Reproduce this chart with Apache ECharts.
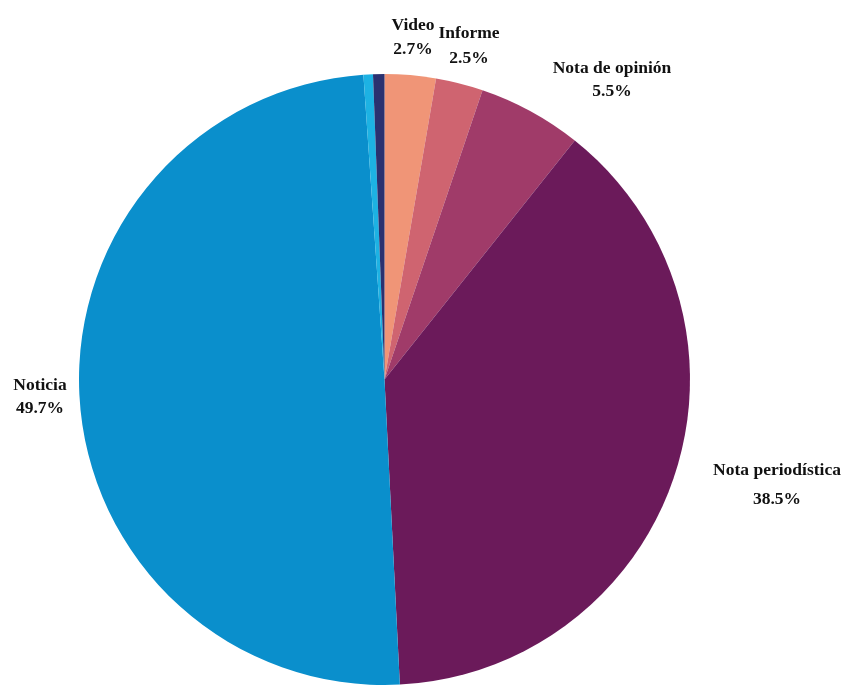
<!DOCTYPE html>
<html>
<head>
<meta charset="utf-8">
<script src="https://cdn.jsdelivr.net/npm/echarts@6/dist/echarts.min.js"></script>
<style>html,body{margin:0;padding:0;background:#fff}#c{width:845px;height:686px}</style>
</head>
<body>
<div id="c"></div>
<script>
const categories = ['Video', 'Informe', 'Nota de opinión', 'Nota periodística', 'Noticia', 'Otro', 'Otros'];
const values = [2.7, 2.5, 5.5, 38.5, 49.7, 0.5, 0.6];
const showLabel = [true, true, true, true, true, false, false];
const colors = ['#F09577', '#CF6470', '#A03B69', '#6B1A5A', '#0A8FCC', '#1DB2E3', '#2A3170'];
const labelPos = [[413, 37], [469, 46], [612, 80], [777, 485], [40, 397], [0, 0], [0, 0]];
const labelLineHeights = [24, 25, 23, 29, 23, 23, 23];

const chart = echarts.init(document.getElementById('c'));
chart.setOption({
  animation: false,
  series: [{
    type: 'pie',
    center: [384.5, 379.5],
    radius: [0, 305.5],
    startAngle: 90,
    clockwise: true,
    avoidLabelOverlap: false,
    itemStyle: { borderWidth: 0 },
    label: {
      show: true,
      position: 'outside',
      formatter: p => p.name + '\n' + p.value.toFixed(1) + '%',
      fontFamily: '"Liberation Serif", "Times New Roman", serif',
      fontWeight: 'bold',
      fontSize: 17.5,
      lineHeight: 24,
      color: '#111',
      align: 'center'
    },
    labelLine: { show: false },
    labelLayout: function (params) {
      const p = labelPos[params.dataIndex];
      return { x: p[0], y: p[1], align: 'center', verticalAlign: 'middle' };
    },
    data: categories.map((name, i) => ({
      name: name,
      value: values[i],
      itemStyle: { color: colors[i] },
      label: { show: showLabel[i], lineHeight: labelLineHeights[i] }
    }))
  }]
});
</script>
</body>
</html>
